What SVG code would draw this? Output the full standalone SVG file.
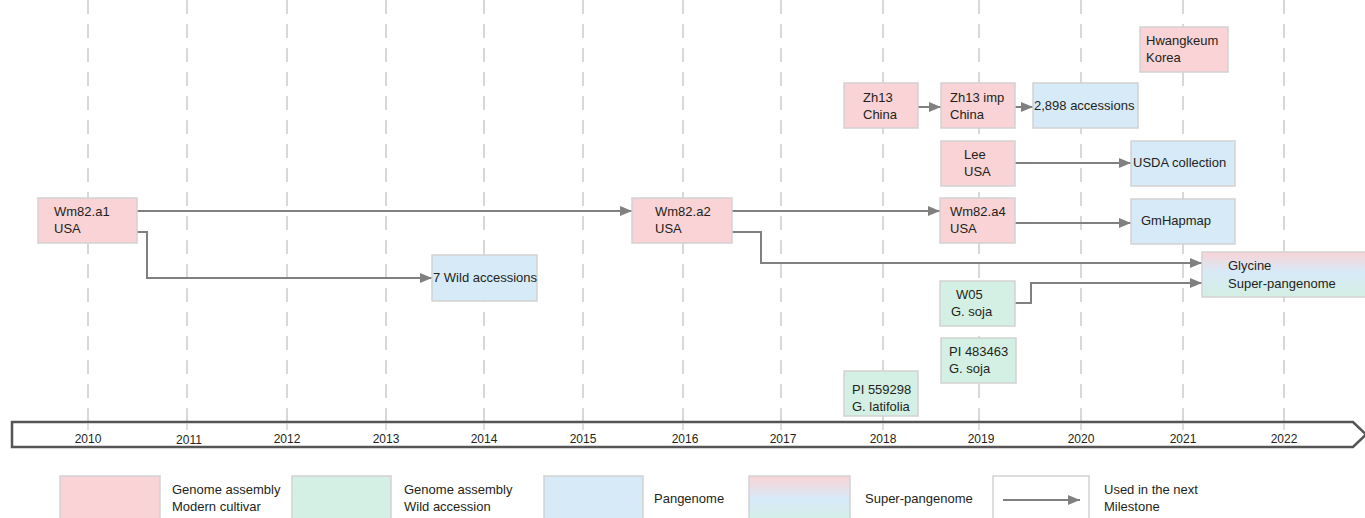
<svg xmlns="http://www.w3.org/2000/svg" width="1365" height="518" viewBox="0 0 1365 518">
<defs>
<style>
.grid{stroke:#cbcbcb;stroke-width:1.5;stroke-dasharray:14 10;fill:none}
.tick{stroke:#bdbdbd;stroke-width:1}
.box{stroke:#d2d2d2;stroke-width:1.5}
.pink{fill:#f9d3d5}
.green{fill:#d4efe3}
.blue{fill:#d7eaf8}
.super{fill:url(#sg)}
.t{font-family:"Liberation Sans",Arial,sans-serif;font-size:13px;fill:#231f20}
.yr{font-family:"Liberation Sans",Arial,sans-serif;font-size:12px;fill:#231f20;text-anchor:middle}
.con{stroke:#808080;stroke-width:2;fill:none}
.arr{marker-end:url(#ah)}
</style>
<linearGradient id="sg" x1="0" y1="0" x2="0" y2="1">
<stop offset="0" stop-color="#f9d3d5"/>
<stop offset="0.45" stop-color="#d7eaf8"/>
<stop offset="1" stop-color="#d4efe3"/>
</linearGradient>
<marker id="ah" markerUnits="userSpaceOnUse" markerWidth="13" markerHeight="11" refX="12" refY="5.5" orient="auto">
<path d="M0,0.5 L12,5.5 L0,10.5 z" fill="#808080"/>
</marker>
</defs>
<rect width="1365" height="518" fill="#ffffff"/>
<g id="grid">
<line class="grid" x1="88" y1="0" x2="88" y2="422"/>
<line class="grid" x1="187" y1="0" x2="187" y2="422"/>
<line class="grid" x1="287" y1="0" x2="287" y2="422"/>
<line class="grid" x1="386" y1="0" x2="386" y2="422"/>
<line class="grid" x1="484" y1="0" x2="484" y2="422"/>
<line class="grid" x1="583" y1="0" x2="583" y2="422"/>
<line class="grid" x1="683" y1="0" x2="683" y2="422"/>
<line class="grid" x1="781" y1="0" x2="781" y2="422"/>
<line class="grid" x1="883" y1="0" x2="883" y2="422"/>
<line class="grid" x1="979" y1="0" x2="979" y2="422"/>
<line class="grid" x1="1081" y1="0" x2="1081" y2="422"/>
<line class="grid" x1="1183" y1="0" x2="1183" y2="422"/>
<line class="grid" x1="1284" y1="0" x2="1284" y2="422"/>
</g>
<g id="timeline">
<path d="M12,422 H1353 L1366,434.5 L1353,447 H12 Z" fill="#ffffff" stroke="#555555" stroke-width="2.5"/>
<line class="tick" x1="88" y1="423" x2="88" y2="430"/>
<line class="tick" x1="187" y1="423" x2="187" y2="430"/>
<line class="tick" x1="287" y1="423" x2="287" y2="430"/>
<line class="tick" x1="386" y1="423" x2="386" y2="430"/>
<line class="tick" x1="484" y1="423" x2="484" y2="430"/>
<line class="tick" x1="583" y1="423" x2="583" y2="430"/>
<line class="tick" x1="683" y1="423" x2="683" y2="430"/>
<line class="tick" x1="781" y1="423" x2="781" y2="430"/>
<line class="tick" x1="883" y1="423" x2="883" y2="430"/>
<line class="tick" x1="979" y1="423" x2="979" y2="430"/>
<line class="tick" x1="1081" y1="423" x2="1081" y2="430"/>
<line class="tick" x1="1183" y1="423" x2="1183" y2="430"/>
<line class="tick" x1="1284" y1="423" x2="1284" y2="430"/>
<text class="yr" x="88" y="443">2010</text>
<text class="yr" x="189" y="444">2011</text>
<text class="yr" x="287" y="443">2012</text>
<text class="yr" x="386" y="443">2013</text>
<text class="yr" x="484" y="443">2014</text>
<text class="yr" x="583" y="443">2015</text>
<text class="yr" x="685" y="443">2016</text>
<text class="yr" x="783" y="443">2017</text>
<text class="yr" x="883" y="443">2018</text>
<text class="yr" x="981" y="443">2019</text>
<text class="yr" x="1081" y="443">2020</text>
<text class="yr" x="1183" y="443">2021</text>
<text class="yr" x="1284" y="443">2022</text>
</g>
<g id="connectors">
<path class="con arr" d="M137,211 H632"/>
<path class="con arr" d="M137,232 H147 V278 H432"/>
<path class="con arr" d="M732,211 H940"/>
<path class="con arr" d="M732,232 H761 V263 H1202"/>
<path class="con arr" d="M1015,223 H1131"/>
<path class="con arr" d="M918,107 H941"/>
<path class="con arr" d="M1015,107 H1033"/>
<path class="con arr" d="M1015,163 H1131"/>
<path class="con arr" d="M1015,303 H1031 V283 H1202"/>
</g>
<g id="n-wm82a1"><rect class="box pink" x="38" y="198" width="99" height="45"/><text class="t" x="54" y="216">Wm82.a1</text><text class="t" x="54" y="233">USA</text></g>
<g id="n-wild7"><rect class="box blue" x="432" y="255" width="105" height="46"/><text class="t" x="433" y="282">7 Wild accessions</text></g>
<g id="n-wm82a2"><rect class="box pink" x="632" y="198" width="100" height="45"/><text class="t" x="655" y="216">Wm82.a2</text><text class="t" x="655" y="233">USA</text></g>
<g id="n-wm82a4"><rect class="box pink" x="940" y="198" width="75" height="45"/><text class="t" x="950" y="216">Wm82.a4</text><text class="t" x="950" y="233">USA</text></g>
<g id="n-zh13"><rect class="box pink" x="844" y="83" width="74" height="45"/><text class="t" x="863" y="102">Zh13</text><text class="t" x="863" y="119">China</text></g>
<g id="n-zh13imp"><rect class="box pink" x="941" y="83" width="74" height="45"/><text class="t" x="950" y="102">Zh13 imp</text><text class="t" x="950" y="119">China</text></g>
<g id="n-2898"><rect class="box blue" x="1033" y="83" width="105" height="45"/><text class="t" x="1034" y="110">2,898 accessions</text></g>
<g id="n-hwangkeum"><rect class="box pink" x="1140" y="27" width="88" height="45"/><text class="t" x="1146" y="45">Hwangkeum</text><text class="t" x="1146" y="62">Korea</text></g>
<g id="n-lee"><rect class="box pink" x="941" y="141" width="74" height="45"/><text class="t" x="964" y="159">Lee</text><text class="t" x="964" y="176">USA</text></g>
<g id="n-usda"><rect class="box blue" x="1131" y="141" width="104" height="45"/><text class="t" x="1133" y="167">USDA collection</text></g>
<g id="n-gmhapmap"><rect class="box blue" x="1131" y="199" width="104" height="45"/><text class="t" x="1141" y="225">GmHapmap</text></g>
<g id="n-glycine"><rect class="box super" x="1202" y="252" width="170" height="45"/><text class="t" x="1228" y="270">Glycine</text><text class="t" x="1228" y="288">Super-pangenome</text></g>
<g id="n-w05"><rect class="box green" x="940" y="281" width="75" height="45"/><text class="t" x="956" y="299">W05</text><text class="t" x="951" y="316">G. soja</text></g>
<g id="n-pi483463"><rect class="box green" x="941" y="338" width="75" height="45"/><text class="t" x="949" y="356">PI 483463</text><text class="t" x="949" y="373">G. soja</text></g>
<g id="n-pi559298"><rect class="box green" x="844" y="371" width="74" height="45"/><text class="t" x="852" y="394">PI 559298</text><text class="t" x="852" y="411">G. latifolia</text></g>
<g id="legend">
<rect class="box pink" x="60" y="476" width="100" height="50"/>
<text class="t" x="172" y="494">Genome assembly</text><text class="t" x="172" y="511">Modern cultivar</text>
<rect class="box green" x="292" y="476" width="99" height="50"/>
<text class="t" x="404" y="494">Genome assembly</text><text class="t" x="404" y="511">Wild accession</text>
<rect class="box blue" x="544" y="476" width="99" height="50"/>
<text class="t" x="654" y="503">Pangenome</text>
<rect class="box super" x="749" y="476" width="101" height="50"/>
<text class="t" x="865" y="503">Super-pangenome</text>
<rect class="box" x="993" y="476" width="96" height="50" fill="#ffffff" stroke="#dcdcdc"/>
<path class="con arr" d="M1003,500 H1080"/>
<text class="t" x="1104" y="494">Used in the next</text><text class="t" x="1104" y="511">Milestone</text>
</g>
</svg>
